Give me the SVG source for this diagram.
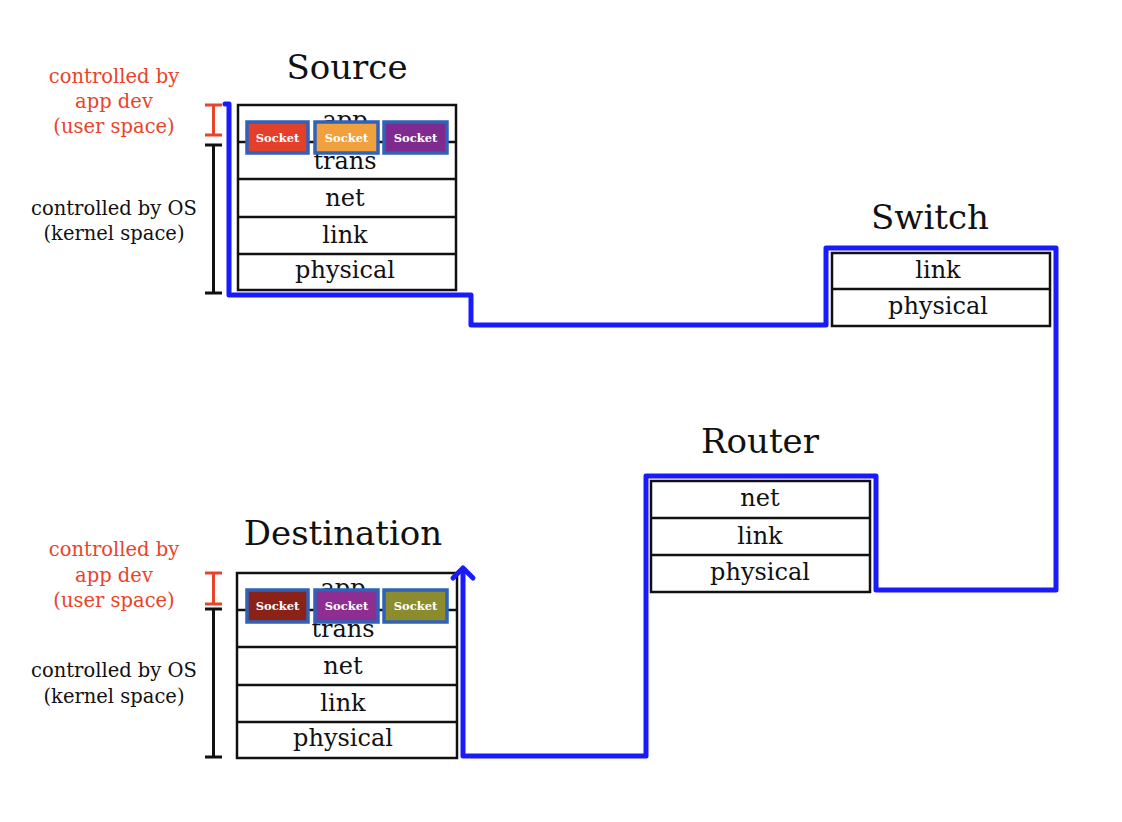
<svg xmlns="http://www.w3.org/2000/svg" width="1122" height="822" viewBox="0 0 1122 822">
<defs>
<style>
.t{font-family:"DejaVu Serif","Liberation Serif",serif;fill:#111;text-anchor:middle}
.title{font-size:34px}
.row{font-size:24px}
.side{font-family:"DejaVu Serif","Liberation Serif",serif;font-size:19.5px;text-anchor:middle}
.red{fill:#e8442a}
.blk{fill:#111}
.box{fill:#fff;stroke:#111;stroke-width:2.5}
.ln{stroke:#111;stroke-width:2.5}
.sock{stroke:#2f62b8;stroke-width:3.5}
.st{font-family:"DejaVu Serif","Liberation Serif",serif;font-size:11.5px;font-weight:bold;fill:#fff;text-anchor:middle}
.rb{stroke:#e8442a;stroke-width:3;fill:none}
.bb{stroke:#111;stroke-width:3;fill:none}
.path{fill:none;stroke:#1a1aff;stroke-width:5;stroke-linejoin:round;stroke-linecap:round}
</style>
</defs>
<rect width="1122" height="822" fill="#fff"/>

<g id="source">
<text class="t title" x="347" y="79">Source</text>
<rect class="box" x="238" y="105" width="218" height="185"/>
<line class="ln" x1="238" y1="142" x2="456" y2="142"/>
<line class="ln" x1="238" y1="179" x2="456" y2="179"/>
<line class="ln" x1="238" y1="217" x2="456" y2="217"/>
<line class="ln" x1="238" y1="254" x2="456" y2="254"/>
<text class="t row" x="345" y="128">app</text>
<text class="t row" x="345" y="169">trans</text>
<text class="t row" x="345" y="206">net</text>
<text class="t row" x="345" y="243">link</text>
<text class="t row" x="345" y="278">physical</text>
<rect class="sock" x="247" y="122" width="61" height="31" fill="#e2402a"/>
<text class="st" x="277.5" y="141.5">Socket</text>
<rect class="sock" x="315" y="122" width="63" height="31" fill="#f0a03c"/>
<text class="st" x="346.5" y="141.5">Socket</text>
<rect class="sock" x="384" y="122" width="63" height="31" fill="#7e2a8e"/>
<text class="st" x="415.5" y="141.5">Socket</text>
<path class="rb" d="M205 105H222M213.5 105V135M205 135H222"/>
<path class="bb" d="M205 145H222M213.5 145V293M205 293H222"/>
<text class="side red" x="114" y="83">controlled by</text>
<text class="side red" x="114" y="108">app dev</text>
<text class="side red" x="114" y="133">(user space)</text>
<text class="side blk" x="114" y="215">controlled by OS</text>
<text class="side blk" x="114" y="240">(kernel space)</text>
</g>

<g id="switch">
<text class="t title" x="930" y="229">Switch</text>
<rect class="box" x="832" y="253" width="218" height="73"/>
<line class="ln" x1="832" y1="289" x2="1050" y2="289"/>
<text class="t row" x="938" y="278">link</text>
<text class="t row" x="938" y="314">physical</text>
</g>

<g id="router">
<text class="t title" x="760" y="453">Router</text>
<rect class="box" x="651" y="481" width="219" height="111"/>
<line class="ln" x1="651" y1="518" x2="870" y2="518"/>
<line class="ln" x1="651" y1="555" x2="870" y2="555"/>
<text class="t row" x="760" y="506">net</text>
<text class="t row" x="760" y="544">link</text>
<text class="t row" x="760" y="580">physical</text>
</g>

<g id="destination">
<text class="t title" x="343" y="545">Destination</text>
<rect class="box" x="237" y="573" width="220" height="185"/>
<line class="ln" x1="237" y1="610" x2="457" y2="610"/>
<line class="ln" x1="237" y1="647" x2="457" y2="647"/>
<line class="ln" x1="237" y1="685" x2="457" y2="685"/>
<line class="ln" x1="237" y1="722" x2="457" y2="722"/>
<text class="t row" x="343" y="596">app</text>
<text class="t row" x="343" y="637">trans</text>
<text class="t row" x="343" y="674">net</text>
<text class="t row" x="343" y="711">link</text>
<text class="t row" x="343" y="746">physical</text>
<rect class="sock" x="247" y="590" width="61" height="32" fill="#8b2218"/>
<text class="st" x="277.5" y="610">Socket</text>
<rect class="sock" x="315" y="590" width="63" height="32" fill="#8e2e93"/>
<text class="st" x="346.5" y="610">Socket</text>
<rect class="sock" x="384" y="590" width="63" height="32" fill="#8c8c2e"/>
<text class="st" x="415.5" y="610">Socket</text>
<path class="rb" d="M205 573H222M213.5 573V604M205 604H222"/>
<path class="bb" d="M205 609H222M213.5 609V757M205 757H222"/>
<text class="side red" x="114" y="556">controlled by</text>
<text class="side red" x="114" y="582">app dev</text>
<text class="side red" x="114" y="607">(user space)</text>
<text class="side blk" x="114" y="677">controlled by OS</text>
<text class="side blk" x="114" y="703">(kernel space)</text>
</g>

<g id="connectors">
<path class="path" d="M225 104H229V295H471V325H826V248H1056V590H876V476H646V756H463V570"/>
<path class="path" d="M453 578L463 568L473 578"/>
</g>
</svg>
